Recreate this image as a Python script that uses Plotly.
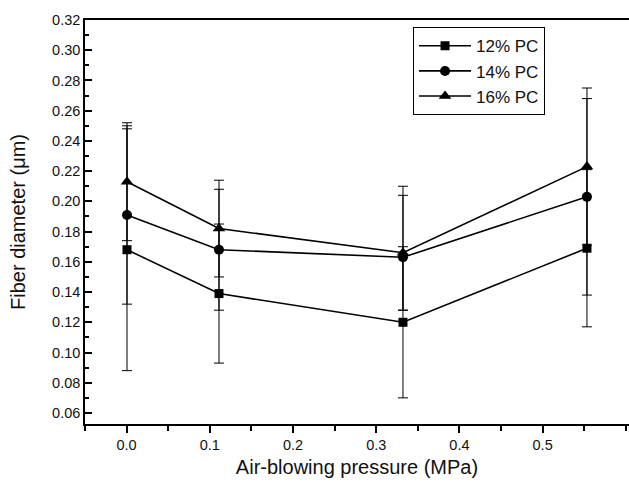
import plotly.graph_objects as go

# ---- data ----
pressure = [0.0, 0.1, 0.3, 0.5]  # MPa

pc12 = [0.168, 0.139, 0.120, 0.169]
pc12_err_plus = [0.080, 0.046, 0.050, 0.052]
pc12_err_minus = [0.080, 0.046, 0.050, 0.052]

pc14 = [0.191, 0.168, 0.163, 0.203]
pc14_err_plus = [0.059, 0.040, 0.041, 0.065]
pc14_err_minus = [0.059, 0.040, 0.035, 0.065]

pc16 = [0.213, 0.182, 0.166, 0.223]
pc16_err_plus = [0.039, 0.032, 0.044, 0.052]
pc16_err_minus = [0.039, 0.032, 0.038, 0.052]

series_names = ["12% PC", "14% PC", "16% PC"]
series_symbols = ["square", "circle", "triangle-up"]
series_sizes = [9, 10, 11]

x_tick_vals = [0.0, 0.1, 0.2, 0.3, 0.4, 0.5]
x_tick_text = ["0.0", "0.1", "0.2", "0.3", "0.4", "0.5"]
y_tick_vals = [0.06, 0.08, 0.10, 0.12, 0.14, 0.16, 0.18, 0.20,
               0.22, 0.24, 0.26, 0.28, 0.30, 0.32]

FONT = "Liberation Sans, Arial, Helvetica, sans-serif"
INK = "#111111"

fig = go.Figure()

# invisible helper trace so the labelled x axis is drawn
fig.add_trace(go.Scatter(x=[None], y=[None], xaxis="x", yaxis="y",
                         showlegend=False, hoverinfo="skip", mode="markers"))

for name, ys, ep, em, sym, sz in zip(
        series_names, [pc12, pc14, pc16],
        [pc12_err_plus, pc14_err_plus, pc16_err_plus],
        [pc12_err_minus, pc14_err_minus, pc16_err_minus],
        series_symbols, series_sizes):
    fig.add_trace(go.Scatter(
        x=pressure, y=ys, name=name, mode="lines+markers",
        xaxis="x2", yaxis="y",
        line=dict(color="black", width=1.6),
        marker=dict(symbol=sym, size=sz, color="black"),
        error_y=dict(type="data", array=ep, arrayminus=em, symmetric=False,
                     color="black", thickness=1, width=5),
    ))

fig.update_layout(
    width=629, height=485,
    margin=dict(l=85, r=0, t=20, b=61),
    paper_bgcolor="white", plot_bgcolor="white",
    font=dict(family=FONT, color=INK),
    showlegend=True,
    legend=dict(x=0.603, y=0.982, xanchor="left", yanchor="top",
                bgcolor="white", bordercolor="black", borderwidth=1,
                font=dict(size=17, family=FONT, color=INK),
                tracegroupgap=0, itemwidth=52,
                entrywidth=150, entrywidthmode="pixels"),
    xaxis=dict(
        range=[-0.05, 0.6038],
        tickmode="array", tickvals=x_tick_vals, ticktext=x_tick_text,
        ticks="outside", ticklen=7, tickwidth=1.5, tickcolor="black",
        minor=dict(dtick=0.05, tick0=0, ticks="outside", ticklen=5,
                   tickwidth=1.5, tickcolor="black"),
        showline=True, linecolor="black", linewidth=1.5, mirror=True,
        showgrid=False, zeroline=False,
        tickfont=dict(size=14.5, family=FONT, color=INK),
        title=dict(text="Air-blowing pressure (MPa)", standoff=8,
                   font=dict(size=20, family=FONT, color=INK)),
    ),
    xaxis2=dict(
        overlaying="x", range=[-0.04565, 0.5457], visible=False,
        showgrid=False, zeroline=False,
    ),
    yaxis=dict(
        range=[0.0527, 0.32],
        tickmode="array", tickvals=y_tick_vals,
        tickformat=".2f",
        ticks="inside", ticklen=7, tickwidth=1.5, tickcolor="black",
        minor=dict(dtick=0.01, tick0=0, ticks="inside", ticklen=4,
                   tickwidth=1.5, tickcolor="black"),
        showline=True, linecolor="black", linewidth=1.5, mirror=False,
        showgrid=False, zeroline=False,
        tickfont=dict(size=14.5, family=FONT, color=INK),
        title=dict(text="Fiber diameter (μm)", standoff=21,
                   font=dict(size=20, family=FONT, color=INK)),
    ),
)

fig.write_html("out.html")
